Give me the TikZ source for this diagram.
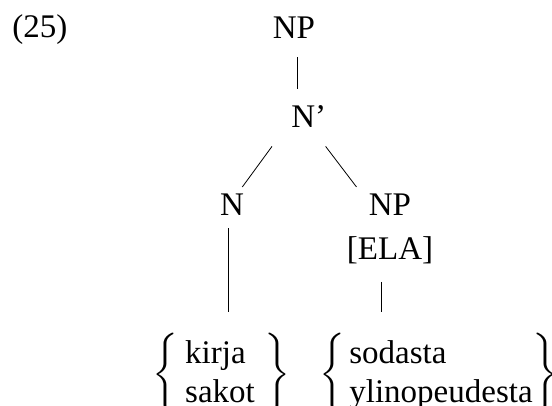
\documentclass[tikz,border=0pt]{standalone}
\usepackage{fontspec}
\setmainfont{Liberation Serif}
\usepackage{amsmath}

\begin{document}
\begin{tikzpicture}[x=0.5pt,y=-0.5pt,
  every node/.style={inner sep=0pt,font=\fontsize{16.5}{19.5}\selectfont}]
\useasboundingbox (0,0) rectangle (552,406);
% Example number
\node[anchor=base west] (exnum) at (12,38) {(25)};

% Tree nodes
\node[anchor=base] (np) at (294,39) {NP};
\node[anchor=base west] (nbar) at (291,128) {N’};
\node[anchor=base] (n) at (232,216) {N};
\node[anchor=base] (npela) at (390,216) {NP};
\node[anchor=base] (ela) at (390,260) {[ELA]};

% Word lists
\node (nouns) at (221.5,375) {$\left\{\begin{tabular}{@{\hspace{3.5pt}}l@{\hspace{5pt}}}kirja\\sakot\end{tabular}\right\}$};
\node (elatives) at (439,375) {$\left\{\begin{tabular}{@{\hspace{2pt}}l@{\hspace{0pt}}}sodasta\\ylinopeudesta\end{tabular}\right\}$};

% Branches
\draw[shorten <=9pt,shorten >=8.5pt] ([xshift=1.5pt]np.south) -- ([xshift=1.5pt]np.south |- nbar.north);
\draw ([shift={(-19,18)}]nbar.south west) -- ([shift={(-2,-7)}]n.north east);
\draw ([shift={(-1,18)}]nbar.south east) -- ([shift={(-12,-7)}]npela.north west);
\draw[shorten <=6pt,shorten >=10.5pt] ([xshift=-2pt]n.south) -- ([xshift=-2pt]n.south |- nouns.north);
\draw[shorten <=11pt,shorten >=10.5pt] ([xshift=-4.5pt]ela.base) -- ([xshift=-4.5pt]ela.base |- elatives.north);
\end{tikzpicture}
\end{document}
